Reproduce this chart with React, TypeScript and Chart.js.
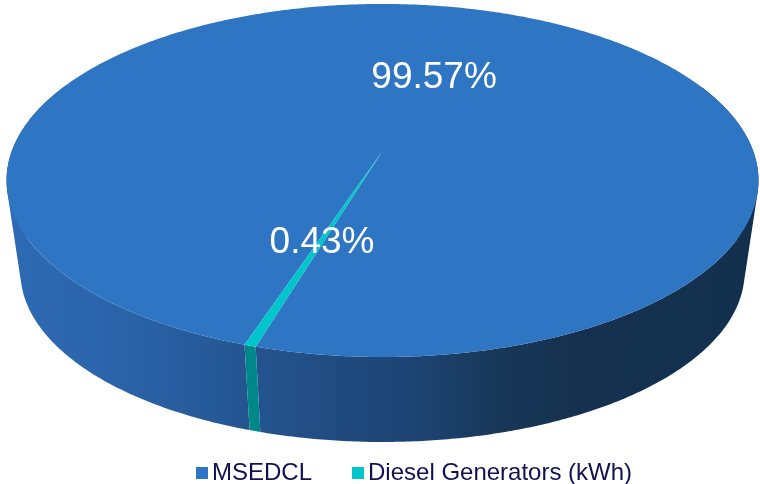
import { useEffect, useRef } from "react";
import { Chart, registerables } from "chart.js";

Chart.register(...registerables);

// Energy source shares (percent of total consumption)
const categories = ["MSEDCL", "Diesel Generators (kWh)"];
const shares = [99.57, 0.43];
const topColors = ["#2E75C3", "#00C5CB"];
const sideColorTeal = "#00878A";

const W = 760;
const H = 484;

// Tilted disc seen in perspective: top face and the (slightly smaller) base face
const DISC = {
  cx: 382.5,
  cy: 151,
  rx: 370.7,
  ry: 171.6,
  persp: 0.167,
  depth: 92.6,
  baseScale: 0.963,
};

function project(theta: number, f: number, base: boolean): [number, number] {
  const u = f * Math.cos(theta);
  const v = f * Math.sin(theta);
  const s = (1 / (1 - DISC.persp * v)) * (base ? DISC.baseScale : 1);
  return [DISC.cx + DISC.rx * u * s, DISC.cy + (base ? DISC.depth : 0) + DISC.ry * v * s];
}

function signedArea(pts: [number, number][]) {
  let a = 0;
  for (let i = 0; i < pts.length; i++) {
    const p = pts[i];
    const q = pts[(i + 1) % pts.length];
    a += p[0] * q[1] - q[0] * p[1];
  }
  return a / 2;
}

const pie3d = {
  id: "pie3d",
  beforeDatasetsDraw(chart: any) {
    const ctx: CanvasRenderingContext2D = chart.ctx;
    const meta = chart.getDatasetMeta(0);
    const arcs = meta.data.map((el: any) => el.getProps(["startAngle", "endAngle"], true));

    const grad = ctx.createLinearGradient(7, 0, 758, 0);
    grad.addColorStop(0, "#2E6BB5");
    grad.addColorStop(0.17, "#2A62A7");
    grad.addColorStop(0.32, "#245591");
    grad.addColorStop(0.45, "#204A7E");
    grad.addColorStop(0.55, "#1D4372");
    grad.addColorStop(0.65, "#183859");
    grad.addColorStop(0.75, "#15314F");
    grad.addColorStop(1, "#12304E");
    const sideFill: (string | CanvasGradient)[] = [grad, sideColorTeal];

    ctx.save();
    // outer wall: one path per slice, every strip wound the same way so they merge
    arcs.forEach((a: any, i: number) => {
      const span = a.endAngle - a.startAngle;
      const n = Math.max(2, Math.ceil(span / (Math.PI / 360)));
      ctx.beginPath();
      for (let j = 0; j < n; j++) {
        const t0 = a.startAngle + (span * j) / n;
        const t1 = a.startAngle + (span * (j + 1)) / n;
        if (Math.sin((t0 + t1) / 2) < -0.4) continue;
        let quad: [number, number][] = [
          project(t0, 1, false),
          project(t1, 1, false),
          project(t1, 1, true),
          project(t0, 1, true),
        ];
        if (signedArea(quad) < 0) quad = quad.reverse();
        ctx.moveTo(quad[0][0], quad[0][1]);
        for (let k = 1; k < 4; k++) ctx.lineTo(quad[k][0], quad[k][1]);
        ctx.closePath();
      }
      ctx.fillStyle = sideFill[i];
      ctx.fill("nonzero");
    });

    // top face
    arcs.forEach((a: any, i: number) => {
      const span = a.endAngle - a.startAngle;
      const n = Math.max(2, Math.ceil(span / (Math.PI / 360)));
      const c = project(0, 0, false);
      ctx.beginPath();
      ctx.moveTo(c[0], c[1]);
      for (let j = 0; j <= n; j++) {
        const p = project(a.startAngle + (span * j) / n, 1, false);
        ctx.lineTo(p[0], p[1]);
      }
      ctx.closePath();
      ctx.fillStyle = topColors[i];
      ctx.fill();
    });
    ctx.restore();
    return false;
  },
  afterDraw(chart: any) {
    const ctx: CanvasRenderingContext2D = chart.ctx;
    const meta = chart.getDatasetMeta(0);
    const values: number[] = chart.data.datasets[0].data;
    const total = values.reduce((s, v) => s + v, 0);

    ctx.save();
    // value labels at half radius of each slice
    ctx.font = '37px "Liberation Sans", Arial, sans-serif';
    ctx.fillStyle = "#FFFFFF";
    ctx.textAlign = "center";
    ctx.textBaseline = "alphabetic";
    meta.data.forEach((el: any, i: number) => {
      const a = el.getProps(["startAngle", "endAngle"], true);
      const mid = (a.startAngle + a.endAngle) / 2;
      const p = project(mid, 0.5, false);
      const txt = ((values[i] / total) * 100).toFixed(2) + "%";
      ctx.fillText(txt, p[0], p[1] + 13);
    });

    // legend
    ctx.font = '24px "Liberation Sans", Arial, sans-serif';
    ctx.textAlign = "left";
    const labels: string[] = chart.data.labels;
    const box = 12;
    const gap = 4;
    const itemGap = 40;
    let x = 196;
    const baseY = 480;
    labels.forEach((l, i) => {
      ctx.fillStyle = topColors[i];
      ctx.fillRect(x, 467, box, box);
      x += box + gap;
      ctx.fillStyle = "#0F1150";
      ctx.fillText(l, x, baseY);
      x += ctx.measureText(l).width + itemGap;
    });
    ctx.restore();
  },
};

export default function App() {
  const ref = useRef<HTMLCanvasElement | null>(null);

  useEffect(() => {
    if (!ref.current) return;
    const chart = new Chart(ref.current, {
      type: "pie",
      data: {
        labels: categories,
        datasets: [
          {
            data: shares,
            backgroundColor: topColors,
            borderWidth: 0,
          },
        ],
      },
      options: {
        responsive: false,
        animation: false,
        events: [],
        rotation: -161.75,
        plugins: {
          legend: { display: false },
          tooltip: { enabled: false },
        },
      },
      plugins: [pie3d as any],
    });
    return () => chart.destroy();
  }, []);

  return (
    <div
      style={{
        position: "fixed",
        left: 0,
        top: 0,
        width: W,
        height: H,
        background: "#FFFFFF",
      }}
    >
      <canvas ref={ref} width={W} height={H} style={{ display: "block" }} />
    </div>
  );
}
